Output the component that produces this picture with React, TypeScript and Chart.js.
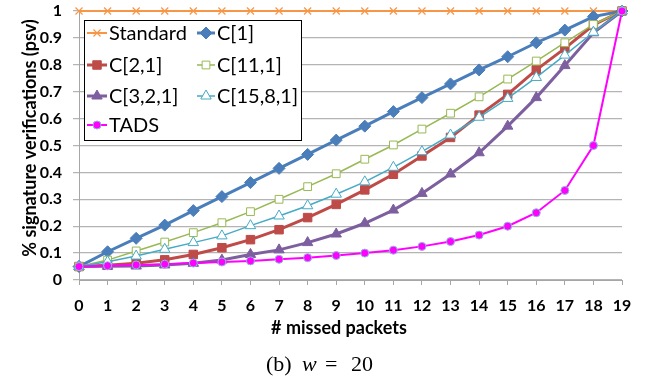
import React, { useEffect, useRef } from 'react';
import { Chart, registerables } from 'chart.js';
import { drawPoint } from 'chart.js/helpers';

Chart.register(...registerables);

const missedPackets = ['0', '1', '2', '3', '4', '5', '6', '7', '8', '9', '10', '11', '12', '13', '14', '15', '16', '17', '18', '19'];
const yTickLabels = ['0', '0.1', '0.2', '0.3', '0.4', '0.5', '0.6', '0.7', '0.8', '0.9', '1'];

const standard = [1, 1, 1, 1, 1, 1, 1, 1, 1, 1, 1, 1, 1, 1, 1, 1, 1, 1, 1, 1];
const c1 = [0.05, 0.105, 0.155, 0.204, 0.258, 0.31, 0.362, 0.415, 0.467, 0.52, 0.572, 0.626, 0.678, 0.729, 0.781, 0.83, 0.882, 0.929, 0.979, 1];
const c21 = [0.05, 0.055, 0.062, 0.075, 0.095, 0.12, 0.15, 0.187, 0.232, 0.281, 0.335, 0.393, 0.461, 0.53, 0.613, 0.69, 0.781, 0.861, 0.948, 1];
const c111 = [0.05, 0.074, 0.108, 0.141, 0.176, 0.213, 0.254, 0.3, 0.347, 0.395, 0.449, 0.502, 0.561, 0.62, 0.681, 0.747, 0.814, 0.882, 0.95, 1];
const c321 = [0.05, 0.051, 0.052, 0.056, 0.062, 0.074, 0.095, 0.112, 0.139, 0.171, 0.211, 0.26, 0.322, 0.394, 0.473, 0.572, 0.678, 0.797, 0.919, 1];
const c1581 = [0.05, 0.068, 0.089, 0.114, 0.139, 0.164, 0.202, 0.238, 0.276, 0.319, 0.365, 0.419, 0.477, 0.539, 0.605, 0.675, 0.753, 0.836, 0.921, 1];
const tads = [0.05, 0.053, 0.056, 0.059, 0.063, 0.067, 0.071, 0.077, 0.083, 0.091, 0.1, 0.111, 0.125, 0.143, 0.167, 0.2, 0.25, 0.333, 0.5, 1];

const xTitle = '# missed packets';
const yTitle = '% signature verifications (psv)';
const FONT = 'Lato, "Open Sans", sans-serif';

const customPlugin = {
  id: 'customDecor',
  afterDraw(chart: any) {
    const ctx = chart.ctx;
    ctx.save();
    // axis titles
    ctx.fillStyle = '#000';
    ctx.font = `bold 18px ${FONT}`;
    ctx.textAlign = 'center';
    ctx.textBaseline = 'middle';
    ctx.fillText(xTitle, 339, 328);
    ctx.save();
    ctx.translate(30, 138);
    ctx.rotate(-Math.PI / 2);
    ctx.fillText(yTitle, 0, 0);
    ctx.restore();

    // legend box
    ctx.fillStyle = '#fff';
    ctx.fillRect(84, 20, 218, 121);
    ctx.strokeStyle = '#000';
    ctx.lineWidth = 1;
    ctx.strokeRect(84.5, 20.5, 217, 120);

    const cols = [{ l0: 87, l1: 107, tx: 109 }, { l0: 197, l1: 215, tx: 217 }];
    const rows = [33, 65, 96, 125];
    const ds = chart.data.datasets;
    ds.forEach((d: any, i: number) => {
      const c = cols[i % 2];
      const y = rows[Math.floor(i / 2)];
      ctx.strokeStyle = d.borderColor;
      ctx.lineWidth = d.borderWidth;
      ctx.beginPath();
      ctx.moveTo(c.l0, y);
      ctx.lineTo(c.l1, y);
      ctx.stroke();
      ctx.fillStyle = d.pointBackgroundColor;
      ctx.strokeStyle = d.pointBorderColor;
      ctx.lineWidth = d.pointBorderWidth;
      drawPoint(ctx, { pointStyle: d.pointStyle, radius: d.pointRadius, rotation: 0, borderWidth: d.pointBorderWidth }, (c.l0 + c.l1) / 2, y);
      ctx.fillStyle = '#000';
      ctx.font = `20px ${FONT}`;
      ctx.textAlign = 'left';
      ctx.textBaseline = 'middle';
      ctx.fillText(d.label, c.tx, y + 1);
    });
    ctx.restore();
  },
};

export default function App() {
  const ref = useRef<HTMLCanvasElement | null>(null);

  useEffect(() => {
    if (!ref.current) return;
    const mk = (label: string, data: number[], color: string, lw: number, style: string, r: number, bg: string, bc: string, bw: number, order: number) => ({
      label,
      data,
      borderColor: color,
      borderWidth: lw,
      pointStyle: style,
      pointRadius: r,
      pointBackgroundColor: bg,
      pointBorderColor: bc,
      pointBorderWidth: bw,
      pointHoverRadius: r,
      fill: false,
      tension: 0,
      clip: false,
      order,
    });
    const chart = new Chart(ref.current, {
      type: 'line',
      data: {
        labels: missedPackets,
        datasets: [
          mk('Standard', standard, '#f79646', 2, 'crossRot', 5, '#f79646', '#f79646', 1.2, 6),
          mk('C[1]', c1, '#4a7ebb', 3, 'rectRot', 6, '#4a7ebb', '#4a7ebb', 1, 5),
          mk('C[2,1]', c21, '#be4b48', 3, 'rect', 6, '#be4b48', '#be4b48', 1, 4),
          mk('C[11,1]', c111, '#98b954', 1.5, 'rect', 5.5, '#ffffff', '#98b954', 1, 3),
          mk('C[3,2,1]', c321, '#7d5fa0', 3, 'triangle', 6, '#7d5fa0', '#7d5fa0', 1, 2),
          mk('C[15,8,1]', c1581, '#46aac5', 1.5, 'triangle', 6, '#ffffff', '#46aac5', 1, 1),
          mk('TADS', tads, '#ff00ff', 2, 'circle', 4, '#ff00ff', '#8eb4e3', 1, 0),
        ] as any,
      },
      options: {
        animation: false,
        responsive: false,
        devicePixelRatio: 1,
        layout: { padding: { left: 0, right: 30, top: 11, bottom: 0 } },
        plugins: { legend: { display: false }, tooltip: { enabled: false } },
        scales: {
          x: {
            type: 'category',
            offset: false,
            grid: { drawOnChartArea: false, drawTicks: true, tickLength: 5, color: '#a6a6a6', lineWidth: 1 },
            border: { color: '#a6a6a6', width: 1 },
            ticks: { color: '#000', font: { family: FONT, size: 16, weight: 'bold' }, padding: 11, maxRotation: 0, autoSkip: false },
            afterFit: (s: any) => { s.height = 104; s.paddingLeft = 0; s.paddingRight = 0; },
          },
          y: {
            type: 'linear',
            min: 0,
            max: 1,
            grid: { color: '#b4b4b4', lineWidth: 1.25, tickLength: 6, drawTicks: true },
            border: { color: '#a6a6a6', width: 1 },
            ticks: {
              stepSize: 0.1,
              color: '#000',
              font: { family: FONT, size: 16, weight: 'bold' },
              padding: 11,
              callback: (_v: any, i: number) => yTickLabels[i],
            },
            afterFit: (s: any) => { s.width = 79; s.paddingTop = 0; s.paddingBottom = 0; },
          },
        },
      },
      plugins: [customPlugin],
    });
    return () => chart.destroy();
  }, []);

  const cap: React.CSSProperties = { position: 'absolute', top: 352, fontFamily: '"Liberation Serif", "DejaVu Serif", serif', fontSize: 22, lineHeight: '24px', color: '#000', whiteSpace: 'nowrap' };
  return (
    <div style={{ position: 'absolute', left: 0, top: 0, width: 652, height: 384, background: '#fff' }}>
      <canvas ref={ref} width={652} height={384} style={{ display: 'block', width: 652, height: 384 }} />
      <span style={{ ...cap, left: 266 }}>(b)</span>
      <span style={{ ...cap, left: 302, fontStyle: 'italic' }}>w</span>
      <span style={{ ...cap, left: 325 }}>=</span>
      <span style={{ ...cap, left: 351 }}>20</span>
    </div>
  );
}
